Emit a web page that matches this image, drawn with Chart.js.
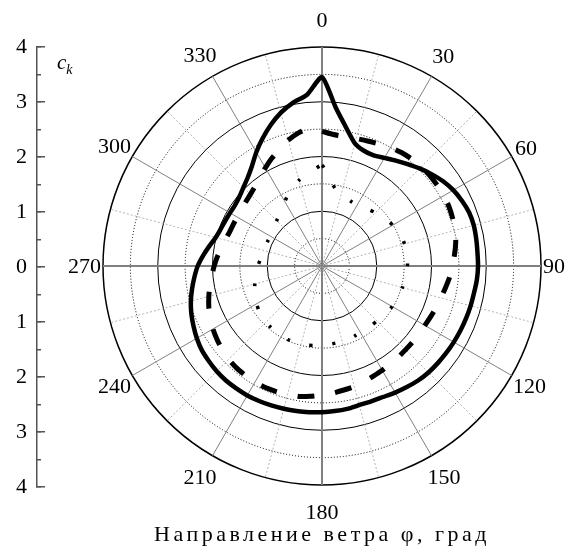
<!DOCTYPE html>
<html>
<head>
<meta charset="utf-8">
<script src="https://cdn.jsdelivr.net/npm/chart.js@4/dist/chart.umd.min.js"></script>
<style>
  body { margin: 0; background: #fff; }
  #wrap { position: relative; width: 579px; height: 550px; }
  #wrap canvas { position: absolute; top: 0; left: 0; }
  #ck { position: absolute; left: 57px; top: 50px; font: italic 21px 'Liberation Serif', serif; }
  #ck sub { font-size: 14px; }
</style>
</head>
<body>
<div id="wrap">
  <canvas id="polarChart" width="579" height="550"></canvas>
  <canvas id="axisChart" width="60" height="550"></canvas>
  <div id="ck">c<sub>k</sub></div>
</div>
<script>
// направление ветра, шаг 5 градусов
const angles = [];
for (let a = 0; a < 360; a += 5) angles.push(a);

const angleTicks = [0, 30, 60, 90, 120, 150, 180, 210, 240, 270, 300, 330];

const ckSolid = [
  3.45, 2.90, 2.56, 2.32, 2.24, 2.23,
  2.28, 2.35, 2.43, 2.52, 2.61, 2.70,
  2.77, 2.82, 2.86, 2.87, 2.86, 2.85,
  2.85, 2.84, 2.82, 2.81, 2.80, 2.79,
  2.78, 2.77, 2.76, 2.75, 2.73, 2.70,
  2.67, 2.64, 2.63, 2.63, 2.65, 2.66,
  2.67, 2.68, 2.69, 2.70, 2.71, 2.72,
  2.73, 2.73, 2.73, 2.72, 2.70, 2.68,
  2.64, 2.59, 2.54, 2.48, 2.41, 2.34,
  2.27, 2.18, 2.09, 2.01, 1.97, 1.95,
  1.94, 1.94, 1.97, 2.03, 2.11, 2.23,
  2.40, 2.57, 2.74, 2.90, 3.03, 3.14
];

const ckDashed = [
  2.46, 2.41, 2.40, 2.41, 2.43, 2.46,
  2.50, 2.53, 2.55, 2.56, 2.57, 2.57,
  2.57, 2.56, 2.54, 2.52, 2.48, 2.43,
  2.38, 2.34, 2.29, 2.25, 2.22, 2.19,
  2.17, 2.16, 2.16, 2.16, 2.17, 2.18,
  2.20, 2.22, 2.25, 2.28, 2.30, 2.33,
  2.36, 2.39, 2.42, 2.43, 2.44, 2.45,
  2.45, 2.44, 2.43, 2.41, 2.38, 2.34,
  2.30, 2.25, 2.20, 2.14, 2.08, 2.02,
  1.97, 1.92, 1.87, 1.83, 1.80, 1.79,
  1.79, 1.80, 1.82, 1.85, 1.90, 1.98,
  2.07, 2.17, 2.27, 2.38, 2.47, 2.53
];

const ckDotted = [
  1.84, 1.58, 1.43, 1.37, 1.32, 1.29,
  1.28, 1.30, 1.34, 1.38, 1.42, 1.46,
  1.49, 1.52, 1.55, 1.56, 1.57, 1.57,
  1.56, 1.54, 1.53, 1.52, 1.50, 1.49,
  1.48, 1.46, 1.44, 1.42, 1.41, 1.40,
  1.40, 1.41, 1.42, 1.42, 1.43, 1.44,
  1.45, 1.46, 1.47, 1.48, 1.48, 1.48,
  1.47, 1.47, 1.46, 1.45, 1.43, 1.41,
  1.38, 1.35, 1.31, 1.27, 1.23, 1.20,
  1.17, 1.14, 1.12, 1.10, 1.09, 1.09,
  1.09, 1.11, 1.14, 1.17, 1.22, 1.29,
  1.36, 1.45, 1.54, 1.62, 1.69, 1.76
];

const ckTicks = [-4, -3, -2, -1, 0, 1, 2, 3, 4];

const serif = "'Liberation Serif', serif";

// разрядка заголовка и подписи углов по окружности
const angleLabels = {
  id: 'angleLabels',
  beforeDraw(chart) {
    chart.ctx.letterSpacing = '3.5px';
  },
  beforeDatasetsDraw(chart) {
    chart.ctx.letterSpacing = '0px';
  },
  afterDraw(chart) {
    const scale = chart.scales.r;
    const ctx = chart.ctx;
    ctx.save();
    ctx.letterSpacing = '0px';
    ctx.font = '22px ' + serif;
    ctx.fillStyle = '#000';
    ctx.textAlign = 'center';
    ctx.textBaseline = 'middle';
    angleTicks.forEach(a => {
      const t = a * Math.PI / 180;
      const w = ctx.measureText(String(a)).width;
      const d = scale.drawingArea + 2 + 25 * Math.cos(t) ** 2 + (w / 2) * Math.sin(t) ** 2;
      const p = scale.getPointPosition(angles.indexOf(a), d);
      ctx.fillText(String(a), p.x, p.y + 1);
    });
    ctx.restore();
  }
};

new Chart(document.getElementById('polarChart'), {
  type: 'radar',
  data: {
    labels: angles,
    datasets: [
      { data: ckSolid, borderColor: '#000', borderWidth: 4.5, pointRadius: 0, fill: false, tension: 0.2 },
      { data: ckDashed, borderColor: '#000', borderWidth: 5, borderDash: [17, 21], pointRadius: 0, fill: false, tension: 0.2 },
      { data: ckDotted, borderColor: '#000', borderWidth: 3.5, borderDash: [3, 20], pointRadius: 0, fill: false, tension: 0.2 }
    ]
  },
  options: {
    responsive: false,
    animation: false,
    events: [],
    layout: { padding: { left: 102, right: 37, top: 47, bottom: 0 } },
    plugins: {
      legend: { display: false },
      tooltip: { enabled: false },
      title: {
        display: true,
        position: 'bottom',
        text: 'Направление ветра φ, град',
        color: '#000',
        font: { family: serif, size: 22, weight: 'normal', lineHeight: 1.2 },
        padding: { top: 35, bottom: 2 }
      }
    },
    scales: {
      r: {
        min: 0,
        max: 4,
        ticks: { display: false, stepSize: 0.5 },
        pointLabels: { display: false },
        grid: {
          circular: true,
          color: '#000',
          lineWidth: c => c.tick.value === 4 ? 1.5 : 1
        },
        border: {
          dash: c => Number.isInteger(c.tick.value) ? [] : [1, 2]
        },
        angleLines: {
          color: c => c.index % 6 === 0 ? '#808080' : '#b4b4b4',
          lineWidth: c => c.index % 18 === 0 ? 2 : (c.index % 3 === 0 ? 1 : 0),
          borderDash: c => c.index % 6 === 0 ? [] : [2, 2]
        }
      }
    }
  },
  plugins: [angleLabels]
});

// левая шкала c_k
new Chart(document.getElementById('axisChart'), {
  type: 'scatter',
  data: { datasets: [] },
  options: {
    responsive: false,
    animation: false,
    events: [],
    layout: { padding: { top: 47, bottom: 63, right: 15, left: 0 } },
    plugins: { legend: { display: false }, tooltip: { enabled: false } },
    scales: {
      x: { display: false },
      y: {
        min: ckTicks[0],
        max: ckTicks[ckTicks.length - 1],
        afterFit: s => { s.width = 37; },
        ticks: {
          stepSize: 0.5,
          autoSkip: false,
          color: '#000',
          padding: 14,
          font: { family: serif, size: 22 },
          callback: v => Number.isInteger(v) ? String(Math.abs(v)) : ''
        },
        grid: {
          drawOnChartArea: true,
          drawTicks: true,
          tickLength: -4,
          tickColor: '#555',
          tickWidth: 1.5,
          lineWidth: 1.5,
          color: c => Number.isInteger(c.tick.value) ? '#555' : 'rgba(0,0,0,0)'
        },
        border: { color: '#555', width: 1.5 }
      }
    }
  }
});
</script>
</body>
</html>
